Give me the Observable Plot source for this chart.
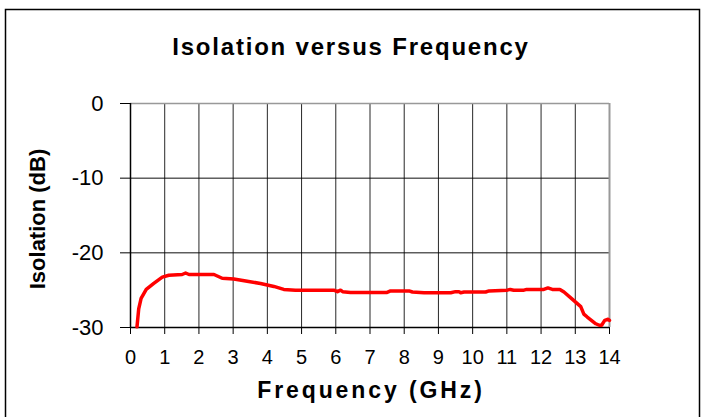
<!DOCTYPE html>
<html><head><meta charset="utf-8">
<script src="https://cdn.jsdelivr.net/npm/d3@7"></script>
<script src="https://cdn.jsdelivr.net/npm/@observablehq/plot@0.6"></script>
<style>
body{margin:0;background:#fff;}
#c{position:relative;width:702px;height:417px;overflow:hidden;}
</style></head><body><div id="c"></div>
<script>
const freqGHz = [0.19,0.24,0.31,0.46,0.68,0.93,1.12,1.51,1.61,1.71,2.44,2.68,3.02,3.41,3.80,4.19,4.48,4.82,5.94,6.05,6.14,6.2,6.43,7.5,7.6,8.14,8.24,8.58,9.36,9.5,9.6,9.65,9.75,10.38,10.48,11.01,11.1,11.2,11.5,11.58,12.08,12.2,12.33,12.55,12.67,12.91,13.16,13.25,13.35,13.6,13.7,13.77,13.86,13.96,14.0];
const isolationDb = [-29.9,-27.5,-26.1,-24.9,-24.1,-23.25,-23.0,-22.9,-22.7,-22.9,-22.9,-23.4,-23.5,-23.8,-24.1,-24.5,-24.9,-25.0,-25.0,-25.2,-25.0,-25.2,-25.3,-25.3,-25.1,-25.1,-25.25,-25.35,-25.35,-25.2,-25.2,-25.35,-25.25,-25.25,-25.1,-25.0,-24.9,-25.0,-25.0,-24.9,-24.9,-24.7,-24.9,-24.9,-25.25,-26.2,-27.2,-28.2,-28.6,-29.5,-29.7,-29.7,-29.05,-28.9,-29.05];
const xTicks = [0,1,2,3,4,5,6,7,8,9,10,11,12,13,14];
const yTicks = [0,-10,-20,-30];
const chartTitle = "Isolation versus Frequency";
const xTitle = "Frequency (GHz)";
const yTitle = "Isolation (dB)";

const data = freqGHz.map((f, i) => ({f, v: isolationDb[i]}));

const plot = Plot.plot({
  width: 702, height: 417,
  marginLeft: 130, marginRight: 93, marginTop: 103, marginBottom: 90,
  style: {fontFamily: "'Liberation Sans', Arial, sans-serif", fontSize: "20px", color: "#000", background: "transparent", overflow: "visible"},
  x: {domain: [0, 14]},
  y: {domain: [-30, 0]},
  marks: [
    Plot.gridX(xTicks, {stroke: "#000", strokeOpacity: 0.85}),
    Plot.gridY([-10, -20], {stroke: "#000", strokeOpacity: 0.95}),
    Plot.ruleY([0], {stroke: "#999", strokeWidth: 1.5}),
    Plot.ruleX([14], {stroke: "#999", strokeWidth: 2}),
    Plot.axisX(xTicks, {tickSize: 7, tickPadding: 15, label: null, fontSize: 20, tickFormat: d => String(d)}),
    Plot.axisY(yTicks, {tickSize: 10, tickPadding: 17, label: null, fontSize: 22, tickFormat: d => String(d)}),
    Plot.ruleX([0], {stroke: "#000", strokeWidth: 1.5}),
    Plot.ruleY([-30], {stroke: "#000", strokeWidth: 1.5}),
    Plot.line(data, {x: "f", y: "v", stroke: "#ff0000", strokeWidth: 3.5})
  ]
});

const svg = d3.select(plot);
svg.append("rect").attr("x", 5.5).attr("y", 9.5).attr("width", 694).attr("height", 430)
  .attr("fill", "none").attr("stroke", "#000").attr("stroke-width", 1.5);
svg.append("text").attr("x", 351).attr("y", 55).attr("text-anchor", "middle")
  .attr("font-weight", "bold").attr("font-size", 24).attr("letter-spacing", "1.8px").text(chartTitle);
svg.append("text").attr("x", 371).attr("y", 398).attr("text-anchor", "middle")
  .attr("font-weight", "bold").attr("font-size", 23).attr("letter-spacing", "2.9px").text(xTitle);
svg.append("text").attr("transform", "translate(45,219) rotate(-90)").attr("text-anchor", "middle")
  .attr("font-weight", "bold").attr("font-size", 22).text(yTitle);

document.getElementById("c").appendChild(plot);
</script></body></html>
